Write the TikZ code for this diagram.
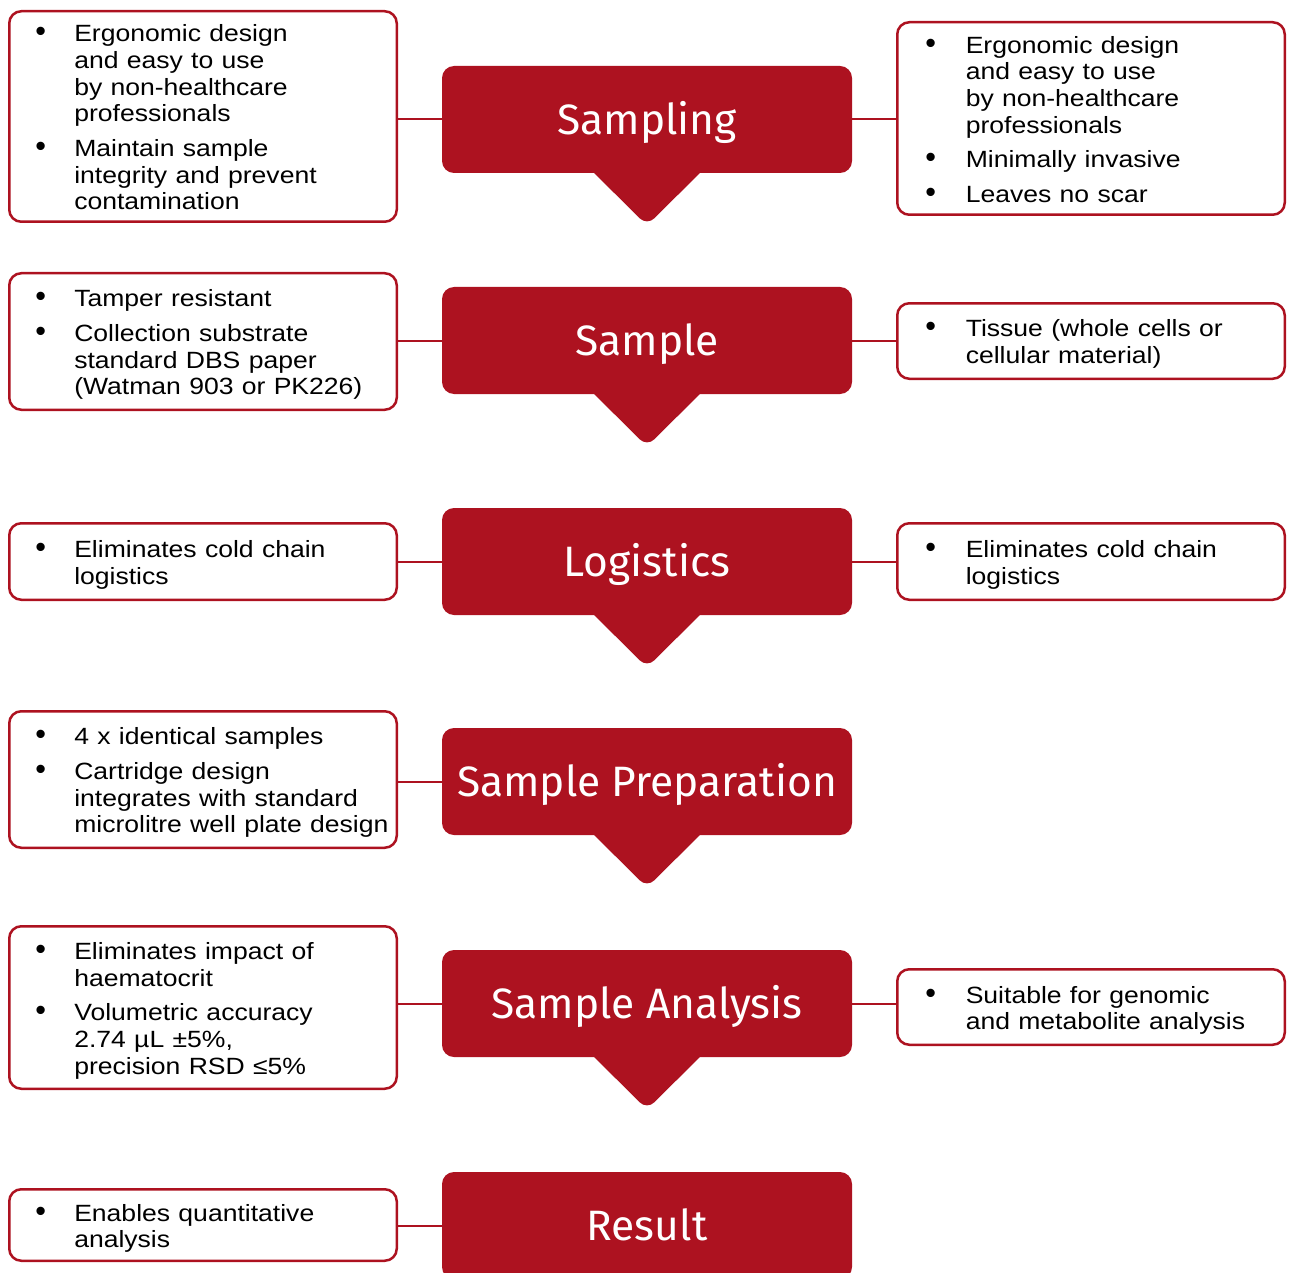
\documentclass[tikz,border=0pt]{standalone}
\usepackage{fontspec}
\usepackage{graphicx}
\setmainfont{Liberation Sans}[FakeStretch=1.13]
\newfontfamily\bulfont{Liberation Sans}
\newfontfamily\titlefont{Fira Sans}
\usetikzlibrary{calc}
\definecolor{brand}{HTML}{AD1220}
\newcommand\bul{\makebox[39pt][l]{\bulfont\scalebox{1.3}{\textbullet}}}
\newcommand\rbul{\makebox[40.5pt][l]{\bulfont\scalebox{1.3}{\textbullet}}}
\newcommand\fst{\rule{0pt}{26.7pt}}
\newenvironment{blist}{\fontsize{23.5}{26.7}\selectfont\spaceskip=8.3pt plus 2pt minus 1pt\relax\renewcommand\arraystretch{1}\begin{tabular}{@{}l@{}l@{}}}{\end{tabular}}
\tikzset{
  stagebox/.style={fill=brand, rounded corners=12pt, minimum width=410pt, minimum height=107pt,
    inner sep=0pt, text=white, text height=29.5pt, text depth=0pt,
    font=\titlefont\fontsize{42.5}{46}\selectfont},
  infobox/.style={draw=brand, line width=2.5pt, rounded corners=12pt, fill=white,
    inner ysep=0pt, align=left},
  leftbox/.style={infobox, inner xsep=26pt, text width=335.5pt},
  rightbox/.style={infobox, inner xsep=28pt, text width=331.5pt},
  link/.style={draw=brand, line width=2pt},
  tail/.style={fill=brand, rounded corners=10pt},
}
\begin{document}
\begin{tikzpicture}[x=1pt,y=-1pt]
\useasboundingbox (0,0) rectangle (1290,1273);

% stage boxes
\foreach \n/\y/\t in {S1/119.5/Sampling, S2/340.5/Sample, S3/561.5/Logistics, S4/781.5/Sample Preparation, S5/1003.5/Sample Analysis}{
  \fill[tail] ($(647,\y)+(-63,43.5)$) -- ($(647,\y)+(0,106)$) -- ($(647,\y)+(63,43.5)$) -- cycle;
  \node[stagebox] (\n) at (647,\y) {\t};
}
\node[stagebox] (S6) at (647,1225.5) {Result};

% left boxes
\node[leftbox, minimum height=210.5pt] (L1) at (203,116.5) {\begin{blist}
\fst\bul & Ergonomic design\\ & and easy to use\\ & by non-healthcare\\ & professionals\\[8pt]
\bul & Maintain sample\\ & integrity and prevent\\ & contamination\end{blist}};
\node[leftbox, minimum height=136.5pt] (L2) at (203,341.5) {\begin{blist}
\fst\bul & Tamper resistant\\[8pt]
\bul & Collection substrate\\ & standard DBS paper\\ & (Watman 903 or PK226)\end{blist}};
\node[leftbox, minimum height=76.5pt] (L3) at (203,561.5) {\begin{blist}
\fst\bul & Eliminates cold chain\\ & logistics\end{blist}};
\node[leftbox, minimum height=136.5pt] (L4) at (203,779.5) {\begin{blist}
\fst\bul & 4 x identical samples\\[8pt]
\bul & Cartridge design\\ & integrates with standard\\ & microlitre well plate design\end{blist}};
\node[leftbox, minimum height=162.5pt] (L5) at (203,1007.5) {\begin{blist}
\fst\bul & Eliminates impact of\\ & haematocrit\\[8pt]
\bul & Volumetric accuracy\\ & 2.74 µL ±5\%,\\ & precision RSD ≤5\%\end{blist}};
\node[leftbox, minimum height=71.5pt] (L6) at (203,1225) {\begin{blist}
\fst\bul & Enables quantitative\\ & analysis\end{blist}};

% right boxes
\node[rightbox, minimum height=192.5pt] (R1) at (1091,118.5) {\begin{blist}
\fst\rbul & Ergonomic design\\ & and easy to use\\ & by non-healthcare\\ & professionals\\[8pt]
\rbul & Minimally invasive\\[8pt]
\rbul & Leaves no scar\end{blist}};
\node[rightbox, minimum height=75.5pt] (R2) at (1091,341) {\begin{blist}
\fst\rbul & Tissue (whole cells or\\ & cellular material)\end{blist}};
\node[rightbox, minimum height=76.5pt] (R3) at (1091,561.5) {\begin{blist}
\fst\rbul & Eliminates cold chain\\ & logistics\end{blist}};
\node[rightbox, minimum height=75.5pt] (R5) at (1091,1007) {\begin{blist}
\fst\rbul & Suitable for genomic\\ & and metabolite analysis\end{blist}};

% connectors
\foreach \s/\b in {S1/L1, S2/L2, S3/L3, S4/L4, S5/L5, S6/L6}{
  \draw[link] (\s.west) -- (\s.west -| \b.east);
}
\foreach \s/\b in {S1/R1, S2/R2, S3/R3, S5/R5}{
  \draw[link] (\s.east) -- (\s.east -| \b.west);
}
\end{tikzpicture}
\end{document}
